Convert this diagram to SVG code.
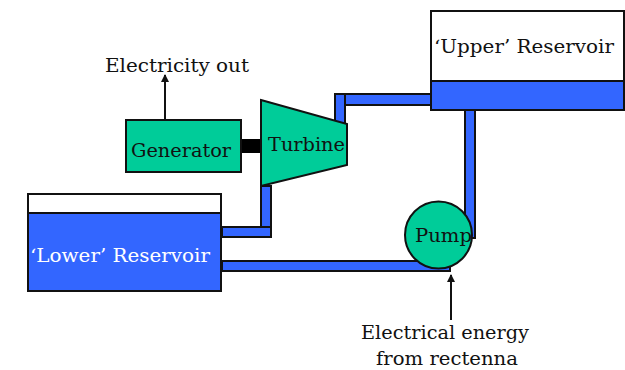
<svg xmlns="http://www.w3.org/2000/svg" width="625" height="370" viewBox="0 0 625 370">
<style>
text{font-family:"DejaVu Serif","Liberation Serif",serif;font-size:18px;fill:#111}
.s{stroke:#111;stroke-width:2}
.blue{fill:#3366ff}
.green{fill:#00cc99}
.white{fill:#fff}
.arrow{stroke:#111;stroke-width:2;fill:none;marker-end:url(#a)}
</style>
<defs><marker id="a" markerWidth="8" markerHeight="8" refX="7" refY="4" orient="auto" markerUnits="userSpaceOnUse"><path d="M0 0L8 4L0 8Z" fill="#111"/></marker></defs>
<rect width="625" height="370" fill="#fff"/>
<g id="connectors">
<rect class="blue s" x="335" y="94" width="10" height="31"/>
<path class="blue s" d="M345 94H431V105H345Z"/>
<path class="blue s" d="M465 110H475V238H465Z"/>
<rect class="blue s" x="261" y="186" width="10" height="41"/>
<rect class="blue s" x="222" y="227" width="49" height="10"/>
<rect class="blue s" x="222" y="261" width="228" height="10"/>
<rect x="241" y="139" width="20" height="14" fill="#000"/>
<path class="arrow" d="M165 120V75"/>
<path class="arrow" d="M451 320V275"/>
</g>
<g id="upper-reservoir">
<rect class="white s" x="431" y="11" width="193" height="70"/>
<rect class="blue s" x="431" y="81" width="193" height="29"/>
<text x="434" y="53" textLength="180" lengthAdjust="spacingAndGlyphs">‘Upper’ Reservoir</text>
</g>
<g id="lower-reservoir">
<rect class="white s" x="28" y="194" width="193" height="19"/>
<rect class="blue s" x="28" y="213" width="193" height="78"/>
<text x="30" y="262" textLength="180" lengthAdjust="spacingAndGlyphs" style="fill:#fff">‘Lower’ Reservoir</text>
</g>
<g id="generator">
<rect class="green s" x="126" y="120" width="115" height="52"/>
<text x="131" y="157" textLength="100" lengthAdjust="spacingAndGlyphs">Generator</text>
</g>
<g id="turbine">
<path class="green s" d="M261 100L347 124V165L261 186Z"/>
<text x="268" y="151" textLength="77" lengthAdjust="spacingAndGlyphs">Turbine</text>
</g>
<g id="pump">
<circle class="green s" cx="438.5" cy="235" r="33.5"/>
<text x="415" y="242" textLength="57" lengthAdjust="spacingAndGlyphs">Pump</text>
</g>
<text id="electricity-out" x="105" y="72" textLength="144" lengthAdjust="spacingAndGlyphs">Electricity out</text>
<text id="electrical-energy" x="361" y="339" textLength="168" lengthAdjust="spacingAndGlyphs">Electrical energy</text>
<text id="from-rectenna" x="376" y="365" textLength="142" lengthAdjust="spacingAndGlyphs">from rectenna</text>
</svg>
